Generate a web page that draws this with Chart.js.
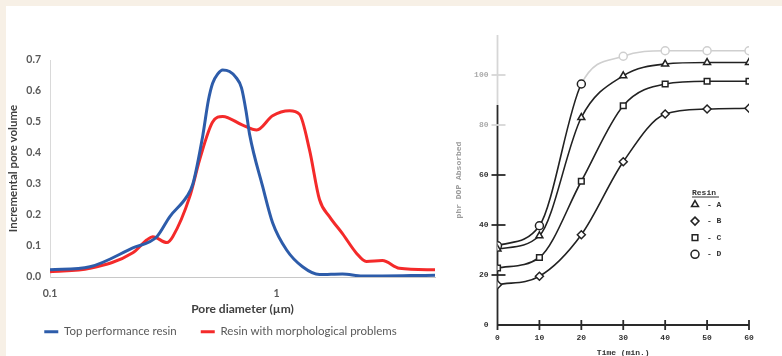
<!DOCTYPE html>
<html>
<head>
<meta charset="utf-8">
<script src="https://cdn.jsdelivr.net/npm/chart.js@4.4.1/dist/chart.umd.min.js"></script>
<style>
html, body { margin: 0; padding: 0; width: 782px; height: 356px; overflow: hidden; background: #f7f0e6; }
#panel { position: absolute; left: 6px; top: 6px; right: 0; bottom: 0; background: #fff; }
#poreBox { position: absolute; left: 6px; top: 6px; width: 455px; height: 356px; }
#dopBox { position: absolute; left: 450px; top: 0; width: 332px; height: 370px; }
</style>
</head>
<body>
<div id="panel"></div>
<div id="poreBox"><canvas id="poreChart"></canvas></div>
<div id="dopBox"><canvas id="dopChart"></canvas></div>
<script>
// Left: pore size distribution
const topDiameter = [0.1, 0.15, 0.232, 0.296, 0.338, 0.402, 0.427, 0.472, 0.5, 0.522, 0.55, 0.578, 0.62, 0.66, 0.7, 0.735, 0.76, 0.867, 0.96, 1.107, 1.302, 1.546, 1.953, 2.39, 5.0];
const topVolume   = [0.023, 0.033, 0.094, 0.13, 0.195, 0.26, 0.3, 0.455, 0.57, 0.625, 0.655, 0.668, 0.663, 0.645, 0.61, 0.53, 0.46, 0.293, 0.175, 0.087, 0.033, 0.008, 0.01, 0.003, 0.006];
const morphDiameter = [0.1, 0.15, 0.232, 0.268, 0.284, 0.328, 0.348, 0.414, 0.458, 0.522, 0.578, 0.708, 0.817, 0.96, 1.141, 1.262, 1.397, 1.546, 1.711, 1.953, 2.25, 2.49, 2.93, 3.48, 5.0];
const morphVolume   = [0.017, 0.028, 0.078, 0.12, 0.13, 0.111, 0.13, 0.26, 0.38, 0.5, 0.518, 0.49, 0.474, 0.52, 0.536, 0.525, 0.41, 0.25, 0.195, 0.14, 0.077, 0.05, 0.053, 0.028, 0.023];
const poreTicks = [0.1, 1];

// Right: DOP absorption vs time
const timeMin = [0, 10, 20, 30, 40, 50, 60];
const resinA = [30.4, 35.7, 83, 99.7, 104.4, 105, 105];
const resinB = [16.1, 19.5, 36.1, 65.3, 84.4, 86.4, 86.7];
const resinC = [22.8, 27, 57.5, 87.7, 96.4, 97.5, 97.5];
const resinD = [31.7, 39.7, 96.4, 107.5, 109.7, 109.7, 109.7];
const resinNames = ['A', 'B', 'C', 'D'];
const dopTicks = [0, 20, 40, 60, 80, 100];

const toPoints = (xs, ys) => xs.map((x, i) => ({x: x, y: ys[i]}));

const poreFont = 'Lato';
new Chart(document.getElementById('poreChart'), {
    type: 'line',
    data: {
        datasets: [{
            label: 'Top performance resin',
            data: toPoints(topDiameter, topVolume),
            borderColor: '#2d5caa',
            backgroundColor: '#2d5caa',
            borderWidth: 3,
            pointRadius: 0,
            cubicInterpolationMode: 'monotone'
        }, {
            label: 'Resin with morphological problems',
            data: toPoints(morphDiameter, morphVolume),
            borderColor: '#f42a2a',
            backgroundColor: '#f42a2a',
            borderWidth: 3,
            pointRadius: 0,
            cubicInterpolationMode: 'monotone'
        }]
    },
    options: {
        responsive: true,
        maintainAspectRatio: false,
        animation: false,
        layout: { padding: { left: 0, right: 26, top: 54, bottom: 14.5 } },
        plugins: {
            tooltip: { enabled: false },
            legend: {
                position: 'bottom',
                labels: {
                    boxWidth: 14,
                    boxHeight: 3,
                    padding: 24,
                    color: '#595959',
                    font: { family: poreFont, size: 11.5 },
                    generateLabels: function(chart) {
                        return Chart.defaults.plugins.legend.labels.generateLabels(chart).map(function(l) {
                            l.strokeStyle = 'rgba(0,0,0,0)';
                            return l;
                        });
                    }
                }
            }
        },
        scales: {
            x: {
                type: 'logarithmic',
                min: 0.1,
                max: 5,
                afterBuildTicks: function(scale) {
                    scale.ticks = poreTicks.map(v => ({value: v}));
                },
                afterFit: function(scale) { scale.height = 25; },
                ticks: {
                    padding: 10,
                    color: '#595959',
                    font: { family: poreFont, size: 10.5, weight: 'bold' },
                    callback: function(value) { return String(value); }
                },
                grid: { display: false, drawTicks: false },
                border: { color: '#c8c8c8' },
                title: {
                    display: true,
                    text: 'Pore diameter (µm)',
                    color: '#404040',
                    font: { family: poreFont, size: 12, weight: 'bold' },
                    padding: { top: 0, bottom: -14.5 }
                }
            },
            y: {
                min: 0,
                max: 0.7,
                afterFit: function(scale) { scale.width = 44; },
                ticks: {
                    stepSize: 0.1,
                    padding: 9,
                    color: '#595959',
                    font: { family: poreFont, size: 10.5, weight: 'bold' },
                    callback: function(value) { return value.toFixed(1); }
                },
                grid: { display: false, drawTicks: false },
                border: { color: '#d9d9d9' },
                title: {
                    display: true,
                    text: 'Incremental pore volume',
                    color: '#404040',
                    font: { family: poreFont, size: 11.5, weight: 'bold' },
                    padding: { top: 0, bottom: 0 }
                }
            }
        }
    }
});

// axes drawn like the scanned figure: ticks crossing the axis lines
const dopFrame = {
    id: 'dopFrame',
    beforeDatasetsDraw(chart) {
        const {ctx, scales: {x, y}} = chart;
        const x0 = x.getPixelForValue(0);
        const y0 = y.getPixelForValue(0);
        const yFade = y.getPixelForValue(88);
        ctx.save();
        ctx.lineWidth = 1.8;
        ctx.strokeStyle = '#2a2a2a';
        ctx.beginPath();
        ctx.moveTo(x0, y0);
        ctx.lineTo(x.right, y0);
        ctx.moveTo(x0, y0 + 4);
        ctx.lineTo(x0, yFade);
        x.ticks.forEach(t => {
            const px = x.getPixelForValue(t.value);
            ctx.moveTo(px, y0 - 5);
            ctx.lineTo(px, y0 + 5);
        });
        ctx.stroke();
        ctx.strokeStyle = '#d6d6d6';
        ctx.beginPath();
        ctx.moveTo(x0, yFade);
        ctx.lineTo(x0, y.top);
        ctx.stroke();
        y.ticks.forEach(t => {
            if (t.value === 0) return;
            const py = y.getPixelForValue(t.value);
            ctx.strokeStyle = t.value >= 80 ? '#d6d6d6' : '#2a2a2a';
            ctx.beginPath();
            ctx.moveTo(x0 - 6, py);
            ctx.lineTo(x0 + 8, py);
            ctx.stroke();
        });
        ctx.restore();
    }
};

const resinKey = {
    id: 'resinKey',
    afterDraw(chart) {
        const {ctx, chartArea} = chart;
        const left = chartArea.left + 197.5;
        const top = chartArea.top + 158;
        ctx.save();
        ctx.font = 'bold 8px "Liberation Mono"';
        ctx.textBaseline = 'middle';
        ctx.fillStyle = '#333';
        ctx.fillText('Resin', left - 3, top);
        ctx.strokeStyle = '#333';
        ctx.lineWidth = 1;
        ctx.beginPath();
        ctx.moveTo(left - 3, top + 4);
        ctx.lineTo(left + 24, top + 4);
        ctx.stroke();
        chart.data.datasets.forEach((ds, i) => {
            const cy = top + 11.5 + i * 16.6;
            ctx.fillStyle = '#fff';
            ctx.strokeStyle = '#222';
            ctx.lineWidth = 1.5;
            Chart.helpers.drawPoint(ctx, {pointStyle: ds.pointStyle, radius: 4, borderWidth: 1.5, rotation: 0}, left, cy);
            ctx.fillStyle = '#333';
            ctx.fillText('- ' + resinNames[i], left + 12, cy);
        });
        ctx.restore();
    }
};

const dopFont = '"Liberation Mono"';
const fadeAfter20 = ctx => ctx.p0.parsed.x >= 20 ? '#cfcfcf' : '#222';
function resinSet(label, values, style) {
    return {
        label: label,
        data: toPoints(timeMin, values),
        borderColor: '#222',
        borderWidth: 1.6,
        pointStyle: style,
        pointRadius: 4,
        pointBorderWidth: 1.5,
        pointBackgroundColor: '#fff',
        pointBorderColor: '#222',
        cubicInterpolationMode: 'monotone'
    };
}
const dopSets = [
    resinSet('A', resinA, 'triangle'),
    resinSet('B', resinB, 'rectRot'),
    resinSet('C', resinC, 'rect'),
    resinSet('D', resinD, 'circle')
];
dopSets[3].segment = { borderColor: fadeAfter20 };
dopSets[3].pointBorderColor = timeMin.map(t => t > 20 ? '#cfcfcf' : '#222');

new Chart(document.getElementById('dopChart'), {
    type: 'line',
    data: { datasets: dopSets },
    plugins: [dopFrame, resinKey],
    options: {
        responsive: true,
        maintainAspectRatio: false,
        animation: false,
        layout: { padding: { left: 0, right: 33, top: 35, bottom: 0 } },
        plugins: { legend: { display: false }, tooltip: { enabled: false } },
        scales: {
            x: {
                type: 'linear',
                min: 0,
                max: 60,
                afterFit: function(scale) { scale.height = 45; },
                ticks: {
                    stepSize: 10,
                    padding: 8,
                    color: '#333',
                    font: { family: dopFont, size: 8, weight: 'bold' }
                },
                grid: { display: false, drawTicks: false },
                border: { display: false },
                title: {
                    display: true,
                    text: 'Time (min.)',
                    color: '#333',
                    font: { family: dopFont, size: 8, weight: 'bold' },
                    padding: { top: 0, bottom: 12 }
                }
            },
            y: {
                min: 0,
                max: 116,
                afterBuildTicks: function(scale) {
                    scale.ticks = dopTicks.map(v => ({value: v}));
                },
                afterFit: function(scale) { scale.width = 47.5; },
                ticks: {
                    padding: 9,
                    color: ctx => ctx.tick.value >= 80 ? '#aaaaaa' : '#333',
                    font: { family: dopFont, size: 8, weight: 'bold' }
                },
                grid: { display: false, drawTicks: false },
                border: { display: false },
                title: {
                    display: true,
                    text: 'phr DOP Absorbed',
                    color: '#9a9a9a',
                    font: { family: dopFont, size: 8, weight: 'bold' },
                    padding: { top: 4, bottom: 0 }
                }
            }
        }
    }
});
</script>
</body>
</html>
